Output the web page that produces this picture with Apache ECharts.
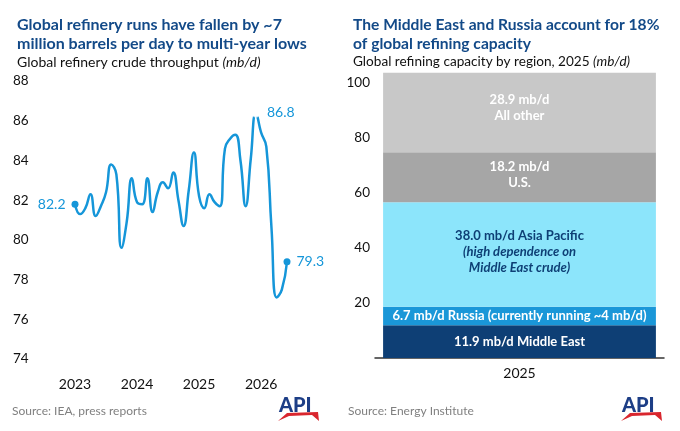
<!DOCTYPE html>
<html>
<head>
<meta charset="utf-8">
<script src="https://cdn.jsdelivr.net/npm/echarts@6/dist/echarts.min.js"></script>
<style>body{margin:0;background:#fff}</style>
</head>
<body>
<div id="chart" style="width:680px;height:431px"></div>
<script>
// left panel: monthly global refinery crude throughput (mb/d)
const months = [
  '2023-01', '2023-02', '2023-03', '2023-04', '2023-05', '2023-06', '2023-07', '2023-08', '2023-09', '2023-10', '2023-11', '2023-12',
  '2024-01', '2024-02', '2024-03', '2024-04', '2024-05', '2024-06', '2024-07', '2024-08', '2024-09', '2024-10', '2024-11', '2024-12',
  '2025-01', '2025-02', '2025-03', '2025-04', '2025-05', '2025-06', '2025-07', '2025-08', '2025-09', '2025-10', '2025-11', '2025-12',
  '2026-01', '2026-02', '2026-03', '2026-04', '2026-05', '2026-06'
]
const yearTicks = ['2023', '2024', '2025', '2026']
const runs = [
  82.2, 81.7, 82.0, 82.7, 81.6, 82.1, 82.8, 84.2, 83.7, 80.0, 81.3, 83.5,
  82.3, 82.2, 83.5, 81.8, 82.8, 83.3, 83.0, 83.8, 82.4, 81.1, 82.9, 84.8,
  82.6, 82.0, 82.7, 82.3, 82.1, 85.0, 85.5, 85.7, 84.4, 82.1, 84.5, 86.8,
  85.8, 85.1, 81.0, 77.5, 77.9, 79.3
]
const labelled = [0, 35, 41]

// right panel: refining capacity by region, 2025 (mb/d)
const capYear = ['2025']
const regions = ['Middle East', 'Russia', 'Asia Pacific', 'U.S.', 'All other']
const capacity = [11.9, 6.7, 38.0, 18.2, 28.9]
const regionNotes = ['', '(currently running ~4 mb/d)', '(high dependence on\nMiddle East crude)', '', '']

const blue = '#1596d9'
const navy = '#0e3f75'
const segColors = [navy, '#1a97d8', '#8ce5fb', '#a6a6a6', '#c8c8c8']

const runsData = runs.map((v, i) => {
  if (!labelled.includes(i)) return v
  const peak = i === 35
  return {
    value: v,
    symbol: peak ? 'emptyCircle' : 'circle',
    symbolSize: peak ? 8 : 7,
    itemStyle: peak ? {color: 'rgba(255,255,255,0.6)', borderColor: '#86c0ea', borderWidth: 1.5} : {color: blue},
    label: {show: true, position: i === 0 ? 'left' : 'right', distance: 6}
  }
})

function segLabel (i) {
  const v = capacity[i].toFixed(1) + ' mb/d'
  if (i === 0) return v + ' ' + regions[i]
  if (i === 1) return v + ' ' + regions[i] + ' ' + regionNotes[i]
  if (i === 2) return '{b|' + v + ' ' + regions[i] + '}\n' + regionNotes[i].split('\n').map(s => '{i|' + s + '}').join('\n')
  return v + '\n' + regions[i]
}
const segOffsets = [[0, 0], [0, 0], [0, -3], [0, -3], [0, -5]]

function apiLogo (x, y) {
  return {
    type: 'group',
    left: x,
    top: y,
    children: [
      {type: 'text', x: 1, y: -3, style: {text: 'API', font: '900 20px Lato', fill: '#1d3e86'}},
      {type: 'polygon', shape: {points: [[0, 22], [9, 14], [40, 13], [41, 22], [34, 16], [11, 17]]}, style: {fill: '#d9262e'}}
    ]
  }
}

const chart = echarts.init(document.getElementById('chart'), null, {renderer: 'canvas'})
chart.setOption({
  animation: false,
  textStyle: {fontFamily: 'Lato'},
  title: [
    {
      text: 'Global refinery runs have fallen by ~7\nmillion barrels per day to multi-year lows',
      left: 12, top: 10,
      textStyle: {fontSize: 16, fontWeight: 'bold', color: '#134a88', lineHeight: 19, fontFamily: 'Lato'},
      subtext: 'Global refinery crude throughput {i|(mb/d)}',
      itemGap: 2,
      subtextStyle: {fontSize: 14, color: '#111', fontFamily: 'Lato', rich: {i: {fontSize: 14, fontStyle: 'italic', color: '#111', fontFamily: 'Lato'}}}
    },
    {
      text: 'The Middle East and Russia account for 18%\nof global refining capacity',
      left: 348, top: 10,
      textStyle: {fontSize: 15.6, fontWeight: 'bold', color: '#134a88', lineHeight: 19, fontFamily: 'Lato'},
      subtext: 'Global refining capacity by region, 2025 {i|(mb/d)}',
      itemGap: 2,
      subtextStyle: {fontSize: 13.6, color: '#111', fontFamily: 'Lato', rich: {i: {fontSize: 13.6, fontStyle: 'italic', color: '#111', fontFamily: 'Lato'}}}
    }
  ],
  grid: [
    {left: 75, right: 393, top: 89, bottom: 64},
    {left: 375, right: 16, top: 72, bottom: 73}
  ],
  xAxis: [
    {
      gridIndex: 0,
      type: 'category',
      data: months,
      boundaryGap: false,
      axisLine: {show: false},
      axisTick: {show: false},
      axisLabel: {
        interval: (i) => i % 12 === 0,
        formatter: (v) => yearTicks.find(y => v.startsWith(y)) || '',
        fontSize: 14, color: '#111', margin: 10
      }
    },
    {
      gridIndex: 1,
      type: 'category',
      data: capYear,
      axisLine: {lineStyle: {color: '#333', width: 1.5}},
      axisTick: {show: false},
      axisLabel: {fontSize: 14, color: '#111', margin: 8}
    }
  ],
  yAxis: [
    {
      gridIndex: 0,
      type: 'value',
      min: 74, max: 88, interval: 2,
      splitLine: {show: false},
      axisLine: {show: false},
      axisTick: {show: false},
      axisLabel: {align: 'left', margin: 62, verticalAlign: 'bottom', lineHeight: 16, fontSize: 13.5, color: '#111'}
    },
    {
      gridIndex: 1,
      type: 'value',
      min: 0, max: 104, interval: 20,
      splitLine: {show: false},
      axisLine: {show: false},
      axisTick: {show: false},
      axisLabel: {
        margin: 5, fontSize: 13.5, color: '#111',
        formatter: (v) => (v > 0 && v % 20 === 0) ? String(v) : ''
      }
    }
  ],
  series: [
    {
      type: 'line',
      xAxisIndex: 0,
      yAxisIndex: 0,
      data: runsData,
      smooth: 0.5,
      symbol: 'circle',
      symbolSize: 0,
      showSymbol: true,
      showAllSymbol: true,
      lineStyle: {color: blue, width: 2.5},
      itemStyle: {color: blue},
      label: {show: false, color: blue, fontSize: 14, formatter: (p) => p.value.toFixed(1)}
    }
  ].concat(capacity.map((v, i) => ({
    type: 'bar',
    name: regions[i],
    xAxisIndex: 1,
    yAxisIndex: 1,
    stack: 'cap',
    barCategoryGap: '5.6%',
    data: [v],
    itemStyle: {color: segColors[i]},
    label: {
      show: true,
      position: 'inside',
      offset: segOffsets[i],
      formatter: () => segLabel(i),
      color: i === 2 ? navy : '#fff',
      fontWeight: 'bold',
      fontSize: 13,
      lineHeight: 16,
      rich: {
        b: {fontWeight: 'bold', fontSize: 13, color: navy, lineHeight: 16},
        i: {fontWeight: 'bold', fontStyle: 'italic', fontSize: 13, color: navy, lineHeight: 16}
      }
    }
  }))),
  graphic: [
    {type: 'text', left: 12, top: 405, style: {text: 'Source: IEA, press reports', font: '12px Lato', fill: '#808080'}},
    {type: 'text', left: 348, top: 405, style: {text: 'Source: Energy Institute', font: '12px Lato', fill: '#808080'}},
    apiLogo(278, 396),
    apiLogo(621, 396)
  ]
})
</script>
</body>
</html>
